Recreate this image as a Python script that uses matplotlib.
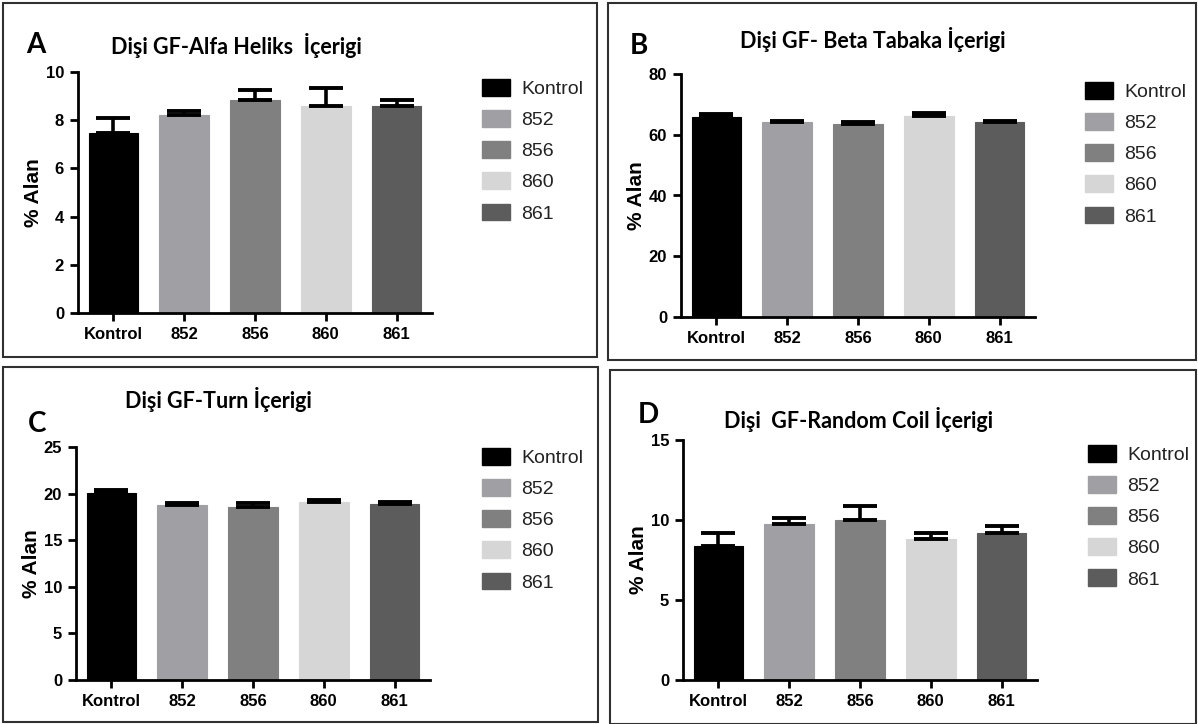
import matplotlib
matplotlib.use("Agg")
import matplotlib.pyplot as plt
from matplotlib.patches import Rectangle, Patch

groups = ["Kontrol", "852", "856", "860", "861"]
colors = ["#000000", "#a0a0a4", "#808081", "#d6d6d6", "#5c5c5c"]

alfa_mean = [7.45, 8.2, 8.85, 8.6, 8.6]
alfa_err = [0.65, 0.2, 0.4, 0.75, 0.25]

beta_mean = [66.0, 64.3, 63.6, 66.3, 64.3]
beta_err = [0.8, 0.25, 0.6, 0.8, 0.25]

turn_mean = [20.1, 18.8, 18.6, 19.1, 18.9]
turn_err = [0.3, 0.2, 0.4, 0.2, 0.2]

coil_mean = [8.4, 9.75, 10.0, 8.8, 9.2]
coil_err = [0.8, 0.35, 0.9, 0.4, 0.4]

W, H = 1198, 724
fig = plt.figure(figsize=(W / 100, H / 100), dpi=100)

tick_font = ["Liberation Sans", "DejaVu Sans"]
title_font = ["Lato", "DejaVu Sans"]


def px_axes(x0, y_top, x1, y_bottom):
    return fig.add_axes([x0 / W, 1 - y_bottom / H, (x1 - x0) / W, (y_bottom - y_top) / H])


def frame(x0, y0, x1, y1):
    fig.patches.append(Rectangle((x0 / W, 1 - y1 / H), (x1 - x0) / W, (y1 - y0) / H,
                                 transform=fig.transFigure, fill=False,
                                 edgecolor="#303030", linewidth=1.5))


def panel(box, ax_box, means, errs, ymax, step, letter, letter_xy, title, title_xy, leg_xy):
    frame(*box)
    ax = px_axes(*ax_box)
    x = range(len(groups))
    ax.bar(x, means, width=0.7, color=colors, edgecolor=colors, linewidth=0.8, zorder=2)
    ax.errorbar(x, means, yerr=[[0] * len(errs), errs], fmt="none", ecolor="black",
                elinewidth=2.6, capsize=12, capthick=2.8, zorder=3)
    ax.set_xlim(-0.5, len(groups) - 0.5)
    ax.set_ylim(0, ymax)
    ax.set_yticks([i * step for i in range(int(round(ymax / step)) + 1)])
    ax.set_xticks(list(x))
    ax.set_xticklabels(groups)
    for s in ["top", "right"]:
        ax.spines[s].set_visible(False)
    for s in ["left", "bottom"]:
        ax.spines[s].set_linewidth(2.0)
    ax.tick_params(axis="both", width=2.0, length=6, labelsize=12, pad=4)
    for lab in ax.get_xticklabels() + ax.get_yticklabels():
        lab.set_fontfamily(tick_font)
        lab.set_fontweight("bold")
    ax.set_ylabel("% Alan", fontsize=15, fontweight="bold", family=tick_font, labelpad=2)
    fig.text(letter_xy[0] / W, 1 - letter_xy[1] / H, letter, fontsize=20, fontweight="bold",
             family=title_font, ha="left", va="center")
    fig.text(title_xy[0] / W, 1 - title_xy[1] / H, title, fontsize=15.5, fontweight="bold",
             family=title_font, ha="center", va="center")
    handles = [Patch(facecolor=c, edgecolor=c) for c in colors]
    fig.legend(handles, groups, loc="upper left",
               bbox_to_anchor=(leg_xy[0] / W, 1 - leg_xy[1] / H),
               frameon=False, prop={"family": tick_font, "size": 14},
               handlelength=1.45, handleheight=0.95, labelspacing=0.62, handletextpad=0.55,
               borderpad=0, borderaxespad=0, labelcolor="#222222")
    return ax


panel((3, 3, 597, 357), (78, 72, 432, 313), alfa_mean, alfa_err, 10, 2,
      "A", (26, 45), "Dişi GF-Alfa Heliks  İçerigi", (236, 45), (482, 79))
panel((608, 3, 1196, 360), (681, 74, 1035, 317), beta_mean, beta_err, 80, 20,
      "B", (630, 46), "Dişi GF- Beta Tabaka İçerigi", (873, 40), (1085, 82))
panel((3, 367, 598, 722), (76, 447, 430, 680), turn_mean, turn_err, 25, 5,
      "C", (28, 424), "Dişi GF-Turn İçerigi", (218, 400), (482, 448))
panel((610, 370, 1196, 724), (683, 440, 1037, 680), coil_mean, coil_err, 15, 5,
      "D", (638, 415), "Dişi  GF-Random Coil İçerigi", (858, 420), (1088, 445))

fig.savefig("out.png", dpi=100)
